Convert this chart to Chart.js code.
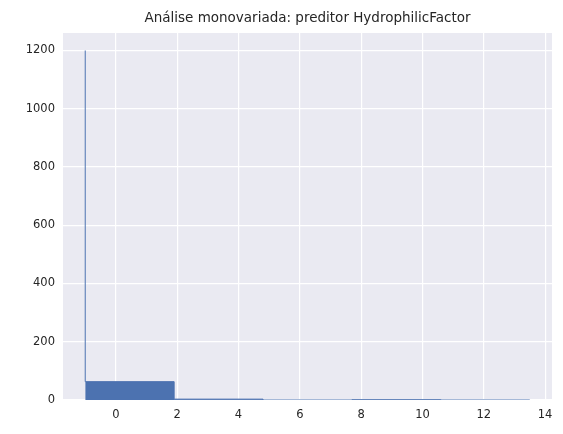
<!DOCTYPE html>
<html>
<head>
<meta charset="utf-8">
<script src="https://cdn.jsdelivr.net/npm/chart.js@4"></script>
<style>
  html, body { margin: 0; padding: 0; background: #fff; }
  #wrap { width: 563px; height: 434px; }
</style>
</head>
<body>
<div id="wrap"><canvas id="histChart"></canvas></div>
<script>
// histogram bins (edges -1 .. 13.5, width 2.9)
const binEdges = [-1, 1.9, 4.8, 7.7, 10.6, 13.5];
const counts = [1200, 63, 3, 0, 1];
const xTicks = [0, 2, 4, 6, 8, 10, 12, 14];
const yTicks = [0, 200, 400, 600, 800, 1000, 1200];
const titleText = 'Análise monovariada: preditor HydrophilicFactor';

// step outline: each bin's count held from its left edge
const steps = binEdges.map((e, i) => ({ x: e, y: i < counts.length ? counts[i] : 0 }));

const plotBg = {
  id: 'plotBg',
  beforeDraw(chart) {
    const { ctx, chartArea: a } = chart;
    ctx.save();
    ctx.fillStyle = '#EAEAF2';
    ctx.fillRect(a.left, a.top, a.right - a.left, a.bottom - a.top);
    ctx.restore();
  },
  afterDraw(chart) {
    const { ctx, chartArea: a } = chart;
    ctx.save();
    ctx.fillStyle = '#262626';
    ctx.font = '13.5px "DejaVu Sans"';
    ctx.textAlign = 'center';
    ctx.textBaseline = 'middle';
    ctx.fillText(titleText, (a.left + a.right) / 2, 18);
    ctx.restore();
  }
};

const font = { family: 'DejaVu Sans', size: 11.5 };

new Chart(document.getElementById('histChart'), {
  type: 'line',
  data: {
    datasets: [{
      data: steps,
      stepped: 'after',
      fill: 'origin',
      backgroundColor: '#4C72B0',
      borderColor: '#4C72B0',
      borderWidth: 1,
      pointRadius: 0
    }]
  },
  options: {
    responsive: true,
    maintainAspectRatio: false,
    animation: false,
    layout: { padding: { right: 11, top: 33 } },
    plugins: {
      legend: { display: false },
      tooltip: { enabled: false },
      title: { display: false }
    },
    scales: {
      x: {
        type: 'linear',
        min: -1.725,
        max: 14.225,
        grid: { color: '#ffffff', lineWidth: 1.2, drawTicks: false },
        border: { display: false },
        afterBuildTicks: s => { s.ticks = xTicks.map(v => ({ value: v })); },
        ticks: { color: '#262626', font, padding: 8, callback: v => String(v) },
        afterFit: s => { s.height = 34; }
      },
      y: {
        min: 0,
        max: 1260,
        grid: { color: '#ffffff', lineWidth: 1.2, drawTicks: false },
        border: { display: false },
        afterBuildTicks: s => { s.ticks = yTicks.map(v => ({ value: v })); },
        ticks: { color: '#262626', font, padding: 8, callback: v => String(v) },
        afterFit: s => { s.width = 63; }
      }
    }
  },
  plugins: [plotBg]
});
</script>
</body>
</html>
